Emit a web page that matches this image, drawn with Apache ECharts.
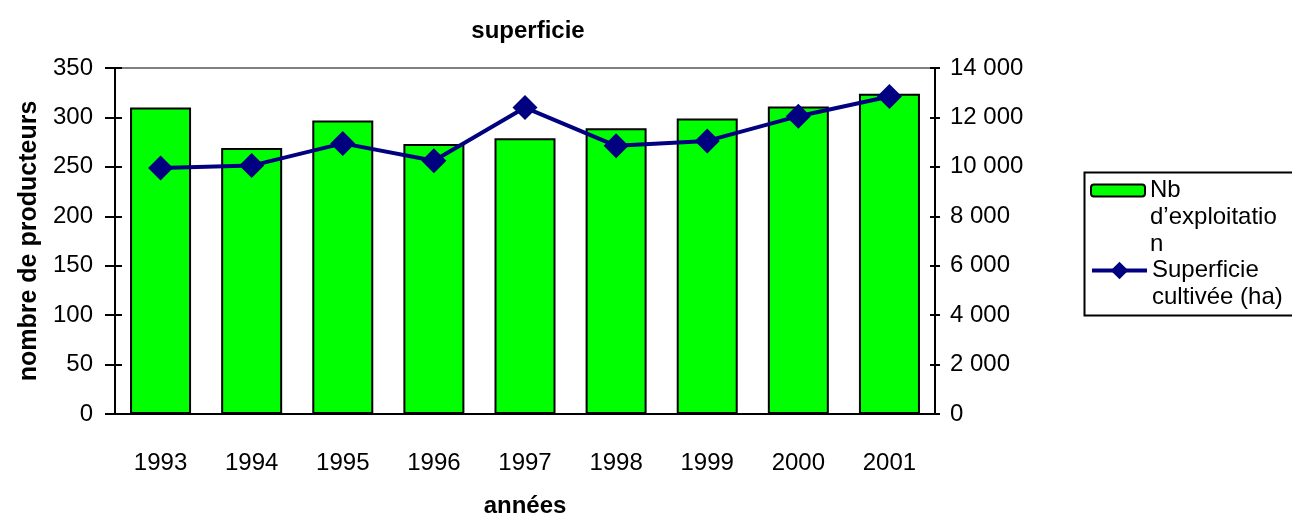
<!DOCTYPE html>
<html>
<head>
<meta charset="utf-8">
<script src="https://cdn.jsdelivr.net/npm/echarts@6/dist/echarts.min.js"></script>
<style>
html, body { margin: 0; padding: 0; background: #fff; }
#main { width: 1292px; height: 517px; }
</style>
</head>
<body>
<div id="main"></div>
<script>
var annees = ['1993', '1994', '1995', '1996', '1997', '1998', '1999', '2000', '2001'];
var nbExploitations = [310, 269, 297, 273, 279, 289, 299, 311, 324];
var superficie = [9950, 10050, 10950, 10250, 12400, 10850, 11050, 12050, 12850];

var police = 'Liberation Sans, Arial, sans-serif';

function milliers(v) {
	return String(v).replace(/\B(?=(\d{3})+(?!\d))/g, ' ');
}

var e = document.getElementById('main');
var myChart = echarts.init(e);
myChart.setOption({
	animation : false,
	title : {
		text : 'superficie',
		left : 523,
		textAlign : 'center',
		top : 14,
		textStyle : { fontFamily : police, fontSize : 24, fontWeight : 'bold', color : '#000' }
	},
	grid : {
		left : 115,
		right : 357,
		top : 68,
		bottom : 103,
		outerBoundsMode : 'none',
		containLabel : false,
		show : true,
		borderColor : '#808080',
		borderWidth : 2
	},
	legend : [ {
		orient : 'vertical',
		left : 1090,
		top : 123,
		padding : 0,
		itemWidth : 54,
		itemHeight : 12,
		data : [ 'Nb d’exploitation' ],
		formatter : function() { return '\n\nNb\nd’exploitatio\nn'; },
		textStyle : { fontFamily : police, fontSize : 24, lineHeight : 27, color : '#000' }
	}, {
		orient : 'vertical',
		left : 1090,
		top : 230,
		padding : 0,
		itemWidth : 55,
		itemHeight : 22,
		data : [ 'Superficie cultivée (ha)' ],
		formatter : function() { return '\nSuperficie\ncultivée (ha)'; },
		lineStyle : { width : 4 },
		textStyle : { fontFamily : police, fontSize : 24, lineHeight : 27, color : '#000' }
	} ],
	graphic : [ {
		type : 'rect',
		left : 1082,
		top : 170,
		shape : { width : 230, height : 143 },
		style : { fill : 'none', stroke : '#000', lineWidth : 2 },
		z : -1
	} ],
	xAxis : {
		type : 'category',
		data : annees,
		name : 'années',
		nameLocation : 'middle',
		nameGap : 80,
		nameTextStyle : { fontFamily : police, fontSize : 24, fontWeight : 'bold', color : '#000' },
		axisLine : { lineStyle : { color : '#000', width : 2 } },
		axisTick : { length : 9, lineStyle : { color : '#000', width : 2 } },
		axisLabel : { margin : 37, fontFamily : police, fontSize : 24, color : '#000' }
	},
	yAxis : [ {
		type : 'value',
		min : 0,
		max : 350,
		interval : 50,
		name : 'nombre de producteurs',
		nameLocation : 'middle',
		nameGap : 73,
		nameTextStyle : { fontFamily : police, fontSize : 25, fontWeight : 'bold', color : '#000' },
		splitLine : { show : false },
		axisLine : { show : true, lineStyle : { color : '#000', width : 2 } },
		axisTick : { show : true, length : 10, lineStyle : { color : '#000', width : 2 } },
		axisLabel : { margin : 22, fontFamily : police, fontSize : 24, color : '#000' }
	}, {
		type : 'value',
		min : 0,
		max : 14000,
		interval : 2000,
		position : 'right',
		splitLine : { show : false },
		axisLine : { show : true, lineStyle : { color : '#000', width : 2 } },
		axisTick : { show : true, length : 5, lineStyle : { color : '#000', width : 2 } },
		axisLabel : { margin : 15, fontFamily : police, fontSize : 24, color : '#000', formatter : milliers }
	}, {
		type : 'value',
		min : 0,
		max : 350,
		interval : 50,
		position : 'left',
		splitLine : { show : false },
		axisLine : { show : false },
		axisTick : { show : true, inside : true, length : 7, lineStyle : { color : '#000', width : 2 } },
		axisLabel : { show : false }
	}, {
		type : 'value',
		min : 0,
		max : 14000,
		interval : 2000,
		position : 'right',
		splitLine : { show : false },
		axisLine : { show : false },
		axisTick : { show : true, inside : true, length : 5, lineStyle : { color : '#000', width : 2 } },
		axisLabel : { show : false }
	} ],
	series : [ {
		name : 'Nb d’exploitation',
		type : 'bar',
		data : nbExploitations,
		barWidth : 61,
		itemStyle : { color : '#00ff00', borderColor : '#000', borderWidth : 2 }
	}, {
		name : 'Superficie cultivée (ha)',
		type : 'line',
		yAxisIndex : 1,
		data : superficie,
		symbol : 'diamond',
		symbolSize : 25,
		lineStyle : { color : '#000080', width : 4 },
		itemStyle : { color : '#000080' }
	} ]
});
</script>
</body>
</html>
